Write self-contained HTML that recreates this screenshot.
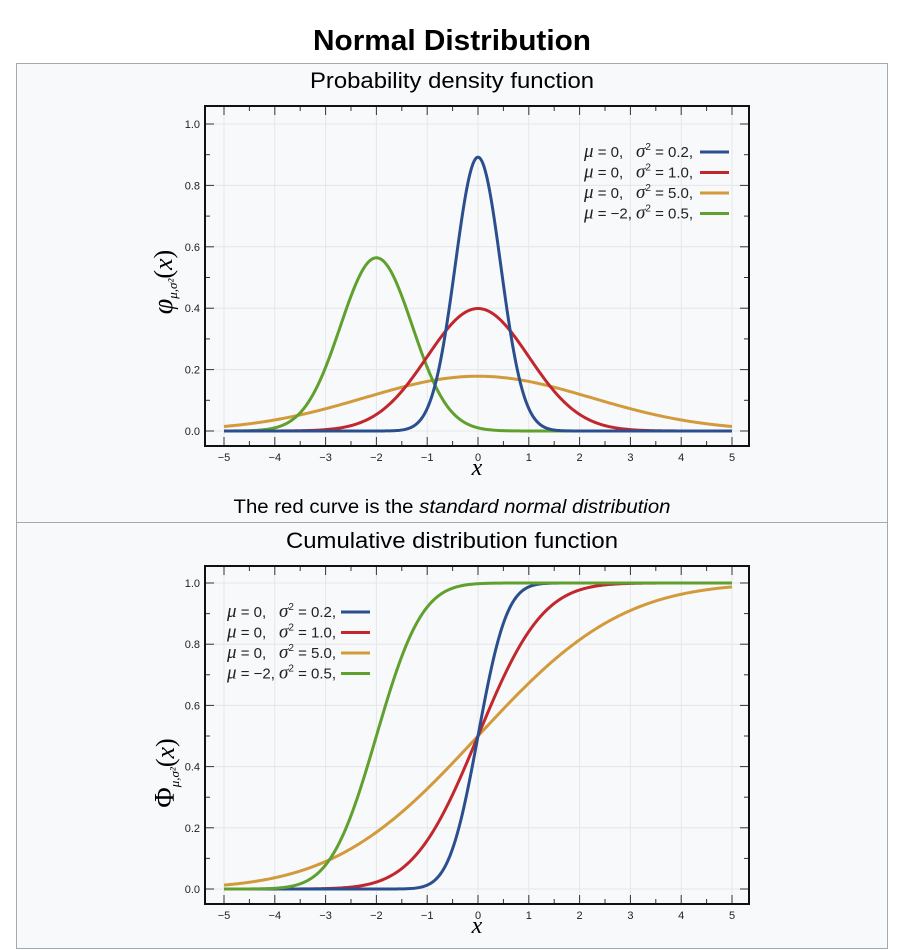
<!DOCTYPE html>
<html><head><meta charset="utf-8"><style>
body{margin:0;background:#fff;width:908px;height:950px;overflow:hidden;font-family:"Liberation Sans",sans-serif}
svg{position:absolute;left:0;top:0}
</style></head><body>
<svg id="s" width="908" height="950">
<text x="452" y="50" text-anchor="middle" font-size="29" font-weight="bold" textLength="278" lengthAdjust="spacingAndGlyphs">Normal Distribution</text>
<rect x="16.5" y="63.5" width="871" height="459" fill="#f8f9fa" stroke="#a2a9b1"/>
<rect x="16.5" y="522.5" width="871" height="426" fill="#f8f9fa" stroke="#a2a9b1"/>
<text x="452" y="88" text-anchor="middle" font-size="22" textLength="284" lengthAdjust="spacingAndGlyphs">Probability density function</text>
<text x="452" y="513" text-anchor="middle" font-size="19" textLength="437" lengthAdjust="spacingAndGlyphs">The red curve is the <tspan font-style="italic">standard normal distribution</tspan></text>
<text x="452" y="548" text-anchor="middle" font-size="22" textLength="332" lengthAdjust="spacingAndGlyphs">Cumulative distribution function</text>
<g id="g1"></g><g id="g2"></g>
</svg>
<script>
const means=[0,0,0,-2];
const variances=[0.2,1.0,5.0,0.5];
const colors=["#2b4f8e","#c1272d","#d29a3b","#5fa02e"];
const muLabels=["0,","0,","0,","\u22122,"];
const varLabels=["0.2,","1.0,","5.0,","0.5,"];
const xTicks=[-5,-4,-3,-2,-1,0,1,2,3,4,5];
const yTicks=[0,0.2,0.4,0.6,0.8,1.0];
const NS="http://www.w3.org/2000/svg";
function mk(p,t,a){const e=document.createElementNS(NS,t);for(const k in a)e.setAttribute(k,a[k]);p.appendChild(e);return e;}
function erf(x){const s=x<0?-1:1;x=Math.abs(x);const t=1/(1+0.3275911*x);const y=1-(((((1.061405429*t-1.453152027)*t)+1.421413741)*t-0.284496736)*t+0.254829592)*t*Math.exp(-x*x);return s*y;}
function pdf(x,m,v){return Math.exp(-(x-m)*(x-m)/(2*v))/Math.sqrt(2*Math.PI*v);}
function cdf(x,m,v){return 0.5*(1+erf((x-m)/Math.sqrt(2*v)));}
function chart(g,fr,fn,ylab,leg){
 const sx=x=>224+(x+5)*50.8, sy=y=>fr.y0-y*(fr.y0-fr.y1);
 mk(g,'rect',{x:205,y:fr.top,width:544,height:fr.bot-fr.top,fill:"#f8f9fa"});
 xTicks.forEach(t=>{const l=mk(g,'line',{x1:sx(t),x2:sx(t),y1:fr.top,y2:fr.bot,stroke:"#e4e6ea"});});
 yTicks.forEach(t=>{const l=mk(g,'line',{x1:205,x2:749,y1:sy(t),y2:sy(t),stroke:"#e4e6ea"});});
 for(let i=-10;i<=10;i++){const x=sx(i/2),L=i%2==0?9:5;
  mk(g,'line',{x1:x,x2:x,y1:fr.top,y2:fr.top+L,stroke:"#333"});mk(g,'line',{x1:x,x2:x,y1:fr.bot,y2:fr.bot-L,stroke:"#333"});}
 for(let i=0;i<=10;i++){const y=sy(i/10),L=i%2==0?9:5;
  mk(g,'line',{x1:205,x2:205+L,y1:y,y2:y,stroke:"#333"});mk(g,'line',{x1:749,x2:749-L,y1:y,y2:y,stroke:"#333"});}
 xTicks.forEach(t=>{const e=mk(g,'text',{x:sx(t),y:fr.bot+15,'text-anchor':'middle','font-size':11,fill:'#222'});e.textContent=t<0?'\u2212'+(-t):String(t);});
 yTicks.forEach(t=>{const e=mk(g,'text',{x:200,y:sy(t)+4,'text-anchor':'end','font-size':11,fill:'#222'});e.textContent=t.toFixed(1);});
 const order=fr.cdf?[2,1,0,3]:[2,3,1,0];
 order.forEach(i=>{let d='';for(let k=0;k<=400;k++){const x=-5+k*10/400;d+=(k?'L':'M')+sx(x).toFixed(2)+','+sy(fn(x,means[i],variances[i])).toFixed(2);}
  const p=mk(g,'path',{d:d,fill:'none',stroke:colors[i],'stroke-width':3,'stroke-linejoin':'round'});});
 mk(g,'rect',{x:205,y:fr.top,width:544,height:fr.bot-fr.top,fill:'none',stroke:'#111','stroke-width':2});
 const xl=mk(g,'text',{x:477,y:fr.bot+29,'text-anchor':'middle','font-size':24,'font-family':'Liberation Serif,serif','font-style':'italic'});xl.textContent='x';
 
 const yl=mk(g,'text',{transform:`translate(${fr.cdf?174:172},${fr.cdf?(fr.top+fr.bot)/2+38:(fr.top+fr.bot)/2+6}) rotate(-90)`,'text-anchor':'middle','font-size':26,'font-family':'Liberation Serif,serif'});
 yl.innerHTML=ylab;
 for(let i=0;i<4;i++){const y=leg.y+i*20.5;
  const t=mk(g,'text',{x:leg.x,y:y+5,'font-size':15,fill:'#222'});
  t.innerHTML=`<tspan font-family="Liberation Serif,serif" font-style="italic" font-size="19">\u03bc</tspan> = ${muLabels[i]}`;
  
  const t2=mk(g,'text',{x:leg.x+52,y:y+5,'font-size':15,fill:'#222'});
  t2.innerHTML=`<tspan font-family="Liberation Serif,serif" font-style="italic" font-size="19">\u03c3</tspan><tspan font-size="10" dy="-7">2</tspan><tspan dy="7"> = ${varLabels[i]}</tspan>`;
  
  const l=mk(g,'line',{x1:leg.lx,x2:leg.lx+29,y1:y,y2:y,stroke:colors[i],'stroke-width':3});
  }
}
chart(document.getElementById('g1'),{top:106,bot:446,y0:431,y1:124,cdf:false},pdf,
 '<tspan font-style="italic" font-size="28">\u03c6</tspan><tspan font-size="13" font-style="italic" dy="5">\u03bc,\u03c3\u00b2</tspan><tspan dy="-5">(</tspan><tspan font-style="italic">x</tspan>)',{x:584,y:152,lx:700});
chart(document.getElementById('g2'),{top:566,bot:904,y0:889,y1:583,cdf:true},cdf,
 '<tspan font-size="28">\u03a6</tspan><tspan font-size="13" font-style="italic" dy="5">\u03bc,\u03c3\u00b2</tspan><tspan dy="-5">(</tspan><tspan font-style="italic">x</tspan>)',{x:227,y:612,lx:341});
</script>
</body></html>
